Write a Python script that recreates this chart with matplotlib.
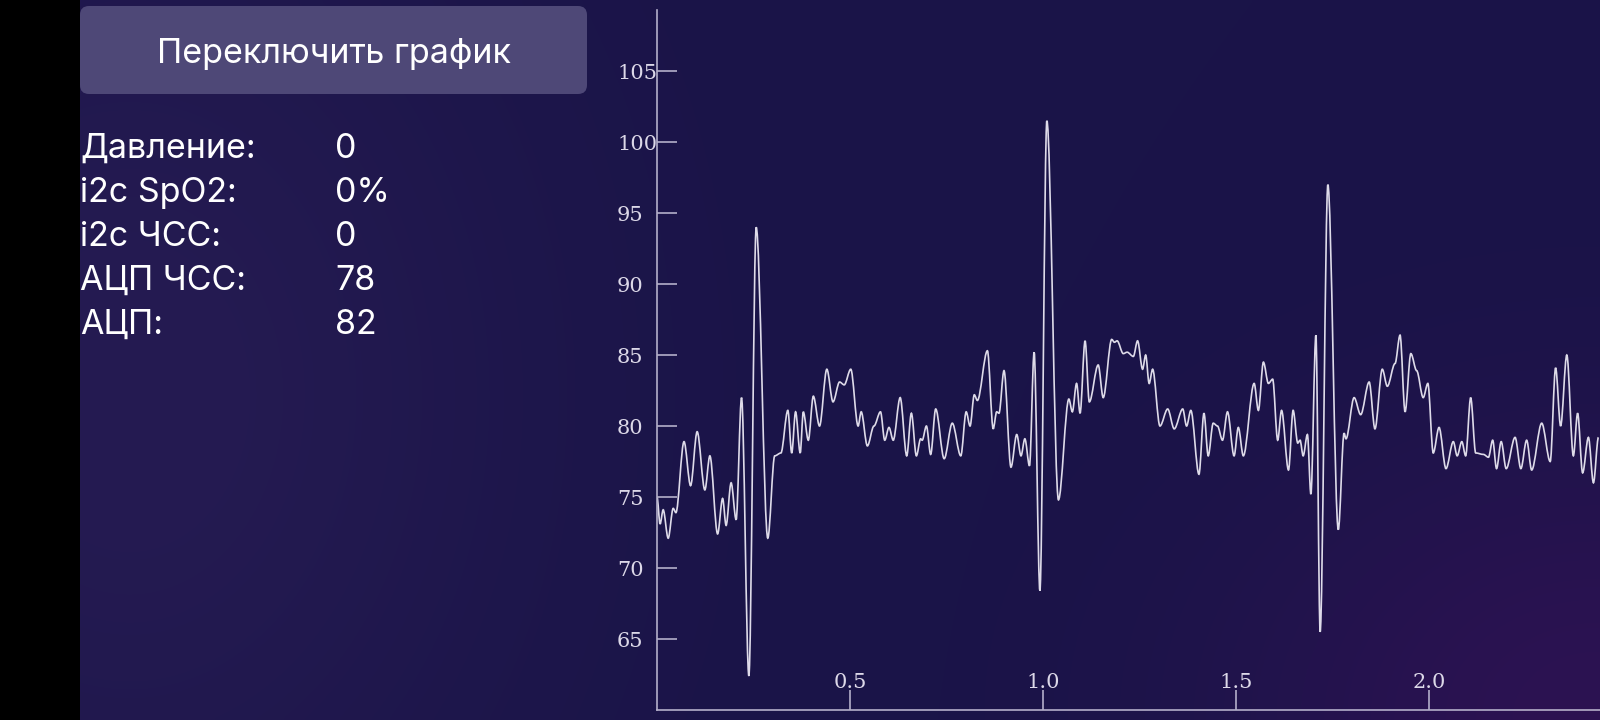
import numpy as np
import matplotlib

matplotlib.use("Agg")
import matplotlib.pyplot as plt
from matplotlib.patches import FancyBboxPatch, PathPatch, Rectangle
from matplotlib.path import Path

# ==== данные графика (время, с / значение АЦП) ====
T = [
    0.000, 0.008, 0.016, 0.029, 0.042, 0.049, 0.070, 0.087, 0.104, 0.124,
    0.137, 0.157, 0.170, 0.179, 0.192, 0.205, 0.219, 0.238, 0.257, 0.287,
    0.305, 0.321, 0.339, 0.349, 0.359, 0.371, 0.379, 0.392, 0.405, 0.421,
    0.440, 0.456, 0.473, 0.485, 0.502, 0.521, 0.529, 0.545, 0.562, 0.579,
    0.590, 0.601, 0.612, 0.630, 0.647, 0.659, 0.672, 0.683, 0.687, 0.698,
    0.709, 0.722, 0.744, 0.765, 0.787, 0.801, 0.811, 0.822, 0.830, 0.856,
    0.871, 0.880, 0.886, 0.899, 0.917, 0.932, 0.943, 0.953, 0.965, 0.977,
    0.992, 1.010, 1.040, 1.067, 1.076, 1.087, 1.096, 1.109, 1.120, 1.143,
    1.156, 1.178, 1.185, 1.192, 1.208, 1.218, 1.234, 1.245, 1.258, 1.266,
    1.275, 1.284, 1.303, 1.323, 1.340, 1.362, 1.372, 1.383, 1.404, 1.417,
    1.428, 1.441, 1.452, 1.465, 1.478, 1.495, 1.506, 1.519, 1.547, 1.558,
    1.571, 1.584, 1.595, 1.608, 1.618, 1.636, 1.648, 1.660, 1.666, 1.674,
    1.685, 1.694, 1.707, 1.718, 1.738, 1.765, 1.780, 1.785, 1.806, 1.823,
    1.845, 1.860, 1.879, 1.892, 1.912, 1.925, 1.938, 1.953, 1.968, 1.985,
    1.997, 2.011, 2.026, 2.044, 2.063, 2.073, 2.085, 2.095, 2.108, 2.121,
    2.141, 2.154, 2.165, 2.175, 2.187, 2.200, 2.223, 2.238, 2.253, 2.266,
    2.292, 2.314, 2.328, 2.341, 2.357, 2.374, 2.385, 2.398, 2.413, 2.426,
    2.439,
]
V = [
    75.0, 73.1, 74.1, 72.1, 74.2, 73.9, 78.9, 75.8, 79.6, 75.5,
    77.9, 72.4, 74.9, 73.0, 76.0, 73.4, 82.0, 62.4, 94.0, 72.1,
    77.9, 78.1, 81.1, 78.1, 81.0, 78.1, 81.0, 79.0, 82.1, 80.0,
    84.0, 81.7, 83.1, 82.9, 84.0, 80.0, 81.0, 78.6, 80.0, 81.0,
    79.0, 79.9, 79.0, 82.0, 77.9, 80.9, 77.9, 79.1, 79.0, 80.0,
    78.0, 81.2, 77.7, 80.2, 77.9, 81.0, 80.0, 82.2, 81.8, 85.3,
    79.8, 81.0, 80.9, 83.9, 77.1, 79.4, 77.9, 79.1, 77.2, 85.2,
    68.4, 101.5, 74.8, 81.9, 81.0, 83.0, 80.9, 86.0, 81.7, 84.3,
    82.0, 86.1, 85.9, 86.0, 85.1, 85.2, 84.9, 86.0, 84.0, 85.0,
    83.0, 84.0, 80.0, 81.2, 79.8, 81.2, 80.0, 81.1, 76.6, 80.9,
    77.9, 80.2, 80.0, 79.0, 81.0, 77.9, 79.9, 77.9, 83.0, 81.1,
    84.5, 83.0, 83.3, 79.0, 81.1, 76.9, 81.1, 78.8, 79.0, 77.9,
    79.4, 75.2, 86.4, 65.5, 97.0, 72.7, 79.5, 79.1, 82.0, 80.8,
    83.1, 79.8, 84.0, 82.8, 84.4, 86.4, 81.0, 85.1, 83.9, 82.0,
    83.0, 78.1, 79.9, 77.0, 78.9, 77.9, 78.9, 77.9, 82.0, 78.1,
    78.0, 77.8, 79.0, 77.0, 78.9, 77.0, 79.2, 77.0, 79.0, 76.9,
    80.2, 77.5, 84.1, 80.0, 85.0, 77.9, 80.9, 76.7, 79.2, 76.0,
    79.2,
]
Y_TICKS = [65, 70, 75, 80, 85, 90, 95, 100, 105]
X_TICKS = [0.5, 1.0, 1.5, 2.0]

BUTTON_TEXT = "Переключить график"
LABELS = ["Давление:", "i2c SpO2:", "i2c ЧСС:", "АЦП ЧСС:", "АЦП:"]
VALUES = ["0", "0%", "0", "78", "82"]

W, H = 1600, 720
AXIS_C = "#b4afca"
TEXT_C = "#dcd8e8"
LINE_C = "#dedbe9"
UI_FONT = ["Inter", "DejaVu Sans"]
UI_SIZE = 24.5


def smooth_path(xs, ys):
    # плавная кривая: кубические сегменты с горизонтальными касательными в узлах
    verts = [(xs[0], ys[0])]
    codes = [Path.MOVETO]
    for x0, y0, x1, y1 in zip(xs[:-1], ys[:-1], xs[1:], ys[1:]):
        d = (x1 - x0) / 3
        verts += [(x0 + d, y0), (x1 - d, y1), (x1, y1)]
        codes += [Path.CURVE4] * 3
    return Path(verts, codes)


fig = plt.figure(figsize=(16, 7.2), dpi=100)

# ---- фон и левая панель (координаты в пикселях) ----
bg = fig.add_axes([0, 0, 1, 1], zorder=0)
bg.set_xlim(0, W)
bg.set_ylim(H, 0)
bg.axis("off")

gy, gx = np.mgrid[0:1:180j, 0:1:400j]
img = np.zeros(gy.shape + (3,))
img[:] = np.array([0x1a, 0x14, 0x48]) / 255
glow_l = np.exp(-((gx - 0.08) ** 2 / 0.06 + (gy - 0.55) ** 2 / 0.5))[..., None]
glow_br = np.exp(-((gx - 1.0) ** 2 / 0.05 + (gy - 1.0) ** 2 / 0.15))[..., None]
img += glow_l * np.array([0x0b, 0x07, 0x0a]) / 255
img += glow_br * np.array([0x12, -0x02, 0x0a]) / 255
bg.imshow(np.clip(img, 0, 1), extent=(0, W, H, 0), aspect="auto", interpolation="bicubic")

bg.add_patch(Rectangle((0, 0), 80, H, color="black", lw=0))
bg.add_patch(
    FancyBboxPatch((80, 6), 507, 88, boxstyle="round,pad=0,rounding_size=9", fc="#4e4877", ec="none")
)
bg.text(334, 63, BUTTON_TEXT, fontsize=UI_SIZE, family=UI_FONT, color="white", ha="center", va="baseline")
for i, (lab, val) in enumerate(zip(LABELS, VALUES)):
    yb = 158 + 44 * i
    bg.text(80, yb, lab, fontsize=UI_SIZE, family=UI_FONT, color="white", ha="left", va="baseline")
    bg.text(335, yb, val, fontsize=UI_SIZE, family=UI_FONT, color="white", ha="left", va="baseline")

# ---- график ----
ax = fig.add_axes([657 / W, 10 / H, 1 - 657 / W, 700 / H], zorder=1)
ax.set_facecolor("none")
ax.add_patch(PathPatch(smooth_path(T, V), fill=False, edgecolor=LINE_C, lw=1.2))
ax.set_xlim(0, (W - 657) / 386)
ax.set_ylim(60, 109.3)

for side in ["top", "right"]:
    ax.spines[side].set_visible(False)
for side in ["left", "bottom"]:
    ax.spines[side].set_color(AXIS_C)
    ax.spines[side].set_linewidth(1.2)

ax.set_yticks(Y_TICKS)
ax.set_xticks(X_TICKS)
ax.tick_params(axis="y", direction="in", length=14.2, width=1.2, color=AXIS_C, labelcolor=TEXT_C, labelsize=15, pad=28.8)
ax.tick_params(axis="x", direction="in", length=14.4, width=1.2, color=AXIS_C, labelcolor=TEXT_C, labelsize=15, pad=-26.5)
for t in ax.get_yticklabels() + ax.get_xticklabels():
    t.set_family("DejaVu Serif")
for t in ax.get_yticklabels():
    t.set_ha("left")

fig.savefig("out.png", dpi=100)
